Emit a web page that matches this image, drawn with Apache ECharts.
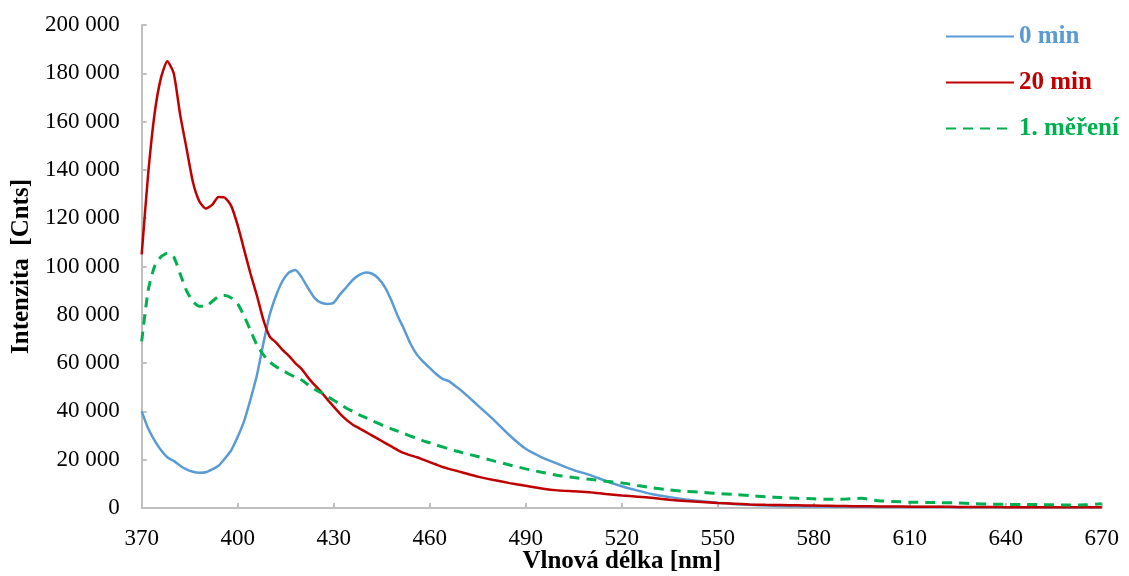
<!DOCTYPE html>
<html>
<head>
<meta charset="utf-8">
<script src="https://cdn.jsdelivr.net/npm/echarts@6/dist/echarts.min.js"></script>
<style>html,body{margin:0;padding:0;background:#fff}#c{width:1129px;height:576px}</style>
</head>
<body>
<div id="c"></div>
<script>
const wavelengths = [370,372,374,376,378,380,382,384,386,388,390,392,394,396,398,400,402,404,406,408,410,412,414,416,418,420,422,424,426,428,430,432,434,436,438,440,442,444,446,448,450,452,454,456,458,460,462,464,466,468,470,475,480,485,490,495,500,505,510,515,520,525,530,535,540,545,550,555,560,565,570,575,580,585,590,595,600,605,610,615,620,625,630,635,640,645,650,655,660,665,670];

const min0 = [40000,33000,28000,24000,21000,19500,17500,16000,15000,14600,14800,16000,17500,20500,24000,29500,36000,45000,55000,68000,80000,88000,94000,97500,98500,95500,91000,87000,85000,84500,85000,88500,91500,94500,96500,97500,97000,95000,91500,86000,79500,74000,68000,63500,60500,58000,55500,53500,52500,50500,48500,42500,36500,30000,24500,21000,18300,15700,13700,11200,9000,7200,5600,4500,3500,2800,2200,1700,1300,1000,800,700,600,550,500,500,450,450,400,400,400,350,350,350,300,300,300,300,300,300,300];

const min20 = [105000,138000,163000,178000,185000,180000,163000,149000,135000,127000,124000,125500,128800,128500,125000,117000,107000,97000,88000,78000,71000,68500,65500,63000,60000,57500,54000,51000,48200,45000,42000,39000,36500,34500,33000,31500,30000,28500,27000,25500,24000,22700,21800,21000,20000,19000,18000,17000,16200,15500,14800,13000,11600,10300,9200,8100,7300,6900,6500,5800,5200,4700,4100,3400,2900,2500,2100,1800,1500,1300,1200,1100,1000,900,800,700,650,600,550,500,500,450,400,400,350,350,300,300,300,300,300];

const mereni1 = [69000,90000,100000,104000,105500,104000,97000,90000,85500,83500,83500,85500,87500,88000,87000,84500,79500,73500,67500,63500,60500,58500,57000,55500,54200,53000,51000,49200,47800,46200,44600,43000,41300,40000,38600,37400,36200,35000,33800,32800,31800,30800,29800,28800,27800,27000,26100,25300,24500,23700,23000,21300,19500,17800,16200,14800,13500,12600,11900,11100,10400,9300,8300,7500,6900,6500,6000,5600,5100,4700,4300,4000,3800,3600,3700,4000,3000,2700,2400,2300,2200,2100,1800,1600,1500,1500,1400,1300,1200,1300,1800];

const seriesNames = ['0 min', '20 min', '1. měření'];
const xTitle = 'Vlnová délka [nm]';
const yTitle = 'Intenzita  [Cnts]';

const pairs = arr => wavelengths.map((w, i) => [w, arr[i]]);
const font = '"Liberation Serif", "Times New Roman", serif';
const colors = ['#5b9bd5', '#c00000', '#00b050'];

const chart = echarts.init(document.getElementById('c'), null, {renderer: 'canvas'});
chart.setOption({
  animation: false,
  backgroundColor: '#fff',
  grid: {left: 141.7, right: 27.3, top: 25, bottom: 68, containLabel: false, outerBoundsMode: 'none'},
  legend: {
    orient: 'vertical', left: 945, top: 24, padding: 0,
    itemWidth: 68, itemHeight: 14, itemGap: 21,
    itemStyle: {opacity: 0},
    textStyle: {fontFamily: font, fontSize: 25, fontWeight: 'bold', lineHeight: 25},
    data: [
      {name: seriesNames[0], textStyle: {color: colors[0]}},
      {name: seriesNames[1], textStyle: {color: colors[1]}},
      {name: seriesNames[2], textStyle: {color: colors[2]}}
    ]
  },
  xAxis: {
    type: 'value', min: 370, max: 670, interval: 30,
    name: xTitle, nameLocation: 'middle', nameGap: 41, nameMoveOverlap: false,
    nameTextStyle: {fontFamily: font, fontSize: 25, fontWeight: 'bold', color: '#000'},
    axisLine: {show: true, lineStyle: {color: '#bfbfbf', width: 2}},
    axisTick: {show: true, inside: true, length: 5, lineStyle: {color: '#bfbfbf', width: 2}},
    axisLabel: {fontFamily: font, fontSize: 23, color: '#000', margin: 19},
    splitLine: {show: false}
  },
  yAxis: {
    type: 'value', min: 0, max: 200000, interval: 20000,
    name: yTitle, nameLocation: 'middle', nameGap: 108, nameRotate: 90, nameMoveOverlap: false,
    nameTextStyle: {fontFamily: font, fontSize: 25, fontWeight: 'bold', color: '#000'},
    axisLine: {show: true, lineStyle: {color: '#bfbfbf', width: 2}},
    axisTick: {show: true, inside: true, length: 5, lineStyle: {color: '#bfbfbf', width: 2}},
    axisLabel: {fontFamily: font, fontSize: 23, color: '#000', margin: 22,
      formatter: v => String(v).replace(/\B(?=(\d{3})+(?!\d))/g, '\u00a0')},
    splitLine: {show: false}
  },
  series: [
    {name: seriesNames[0], type: 'line', data: pairs(min0), symbol: 'none', smooth: 0.2,
      lineStyle: {color: colors[0], width: 2.5}, itemStyle: {color: colors[0]}},
    {name: seriesNames[1], type: 'line', data: pairs(min20), symbol: 'none', smooth: 0.2,
      lineStyle: {color: colors[1], width: 2.5}, itemStyle: {color: colors[1]}},
    {name: seriesNames[2], type: 'line', data: pairs(mereni1), symbol: 'none', smooth: 0.2,
      lineStyle: {color: colors[2], width: 3, type: [10, 7]}, itemStyle: {color: colors[2]}}
  ]
});
</script>
</body>
</html>
